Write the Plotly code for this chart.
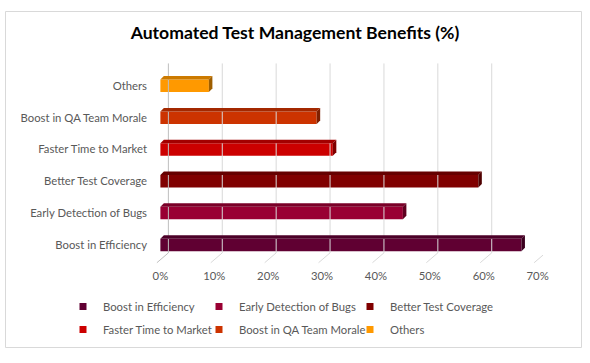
import plotly.graph_objects as go

# ---- data ----
categories = ["Boost in Efficiency", "Early Detection of Bugs", "Better Test Coverage",
              "Faster Time to Market", "Boost in QA Team Morale", "Others"]
values = [67, 45, 59, 32, 29, 9]
x_ticks = [0, 10, 20, 30, 40, 50, 60, 70]
x_tick_labels = ["0%", "10%", "20%", "30%", "40%", "50%", "60%", "70%"]

# ---- style ----
front_colors = ["#600032", "#990033", "#800000", "#cc0000", "#cc3300", "#ff9900"]
W, H = 590, 363
ML, MR, MT, MB = 155, 47, 62, 99
XR = [-1, 71]
YR = [-0.6, 5.75]
PW, PH = W - ML - MR, H - MT - MB
pxx = PW / (XR[1] - XR[0])      # pixels per x unit
pxy = PH / (YR[1] - YR[0])      # pixels per y unit
FONT = "Lato"
TXT = "#595959"
FS = 11.3
legend_cols_px = [63, 199, 350]  # left edge of each legend column (pixels)
legend_rows_px = [292, 315]      # top of each legend row (pixels)

bar_w = 12.5 / pxy               # front face height in y units
dx = 3.5 / pxx                   # depth offsets
dy = 3.5 / pxy
back_dx = 8 / pxx
floor_dx = -3.5 / pxx
grid_top = 5.705
grid_back_bottom = -0.25
grid_front_bottom = -0.56


def shade(hexc, f):
    h = hexc.lstrip("#")
    r, g, b = (int(h[i:i + 2], 16) for i in (0, 2, 4))
    return "#%02x%02x%02x" % (int(r * f), int(g * f), int(b * f))


def xp(px):
    return (px - ML) / PW


def yp(py):
    return (H - MB - py) / PH


fig = go.Figure()

# back-wall gridlines and floor ticks
for t in x_ticks:
    fig.add_trace(go.Scatter(
        x=[t + back_dx, t + back_dx, t + floor_dx],
        y=[grid_top, grid_back_bottom, grid_front_bottom],
        mode="lines", line=dict(color="#bfbfbf" if t == 0 else "#d9d9d9", width=1),
        hoverinfo="skip", showlegend=False))

# bars (front faces) plus 3-D top / side faces
for i, (cat, v, col) in enumerate(zip(categories, values, front_colors)):
    top = i + bar_w / 2
    bot = i - bar_w / 2
    fig.add_trace(go.Scatter(
        x=[0, dx, v + dx, v, 0], y=[top, top + dy, top + dy, top, top],
        fill="toself", fillcolor=shade(col, 0.8), mode="lines",
        line=dict(width=0, color=shade(col, 0.8)), hoverinfo="skip", showlegend=False))
    fig.add_trace(go.Scatter(
        x=[v, v + dx, v + dx, v, v], y=[bot, bot + dy, top + dy, top, bot],
        fill="toself", fillcolor=shade(col, 0.62), mode="lines",
        line=dict(width=0, color=shade(col, 0.62)), hoverinfo="skip", showlegend=False))
    fig.add_trace(go.Bar(
        x=[v], y=[i], orientation="h", width=bar_w, base=0,
        marker=dict(color=col, line=dict(width=0)), name=cat, showlegend=False))

# legend entries: one small legend per entry, laid out in 2 rows x 3 columns
legend_layouts = {}
for k, (cat, col) in enumerate(zip(categories, front_colors)):
    lname = "legend" if k == 0 else "legend%d" % (k + 1)
    fig.add_trace(go.Scatter(
        x=[None], y=[None], mode="markers", name=cat, legend=lname,
        marker=dict(symbol="square", size=7, color=col)))
    legend_layouts[lname] = dict(
        orientation="h", xref="paper", yref="paper",
        x=xp(legend_cols_px[k % 3]), xanchor="left",
        y=yp(legend_rows_px[k // 3]), yanchor="top",
        font=dict(family=FONT, size=FS, color=TXT),
        bgcolor="rgba(0,0,0,0)",
        itemclick=False, itemdoubleclick=False)

fig.add_shape(type="rect", xref="paper", yref="paper",
              x0=xp(5.5), x1=xp(581.5), y0=yp(11.5), y1=yp(347.5),
              line=dict(color="#d9d9d9", width=1), layer="below")

fig.update_layout(
    width=W, height=H,
    margin=dict(l=ML, r=MR, t=MT, b=MB, pad=0),
    paper_bgcolor="white", plot_bgcolor="white",
    barmode="overlay",
    title=dict(text="<b>Automated Test Management Benefits (%)</b>",
               font=dict(family=FONT, size=17.6, color="black"),
               x=0.5, xref="container", xanchor="center",
               y=1 - 33 / H, yref="container", yanchor="middle"),
    xaxis=dict(range=XR, tickvals=x_ticks, ticktext=x_tick_labels,
               showgrid=False, zeroline=False, showline=False,
               tickfont=dict(family=FONT, size=FS, color=TXT),
               ticklabelstandoff=4, fixedrange=True),
    yaxis=dict(range=YR, tickvals=list(range(len(categories))), ticktext=categories,
               showgrid=False, zeroline=False, showline=False,
               tickfont=dict(family=FONT, size=FS, color=TXT),
               ticklabelstandoff=7, fixedrange=True),
    showlegend=True,
    **legend_layouts,
)

fig.write_html("out.html", config={"displayModeBar": False},
               post_script="document.body.style.margin='0px';")
